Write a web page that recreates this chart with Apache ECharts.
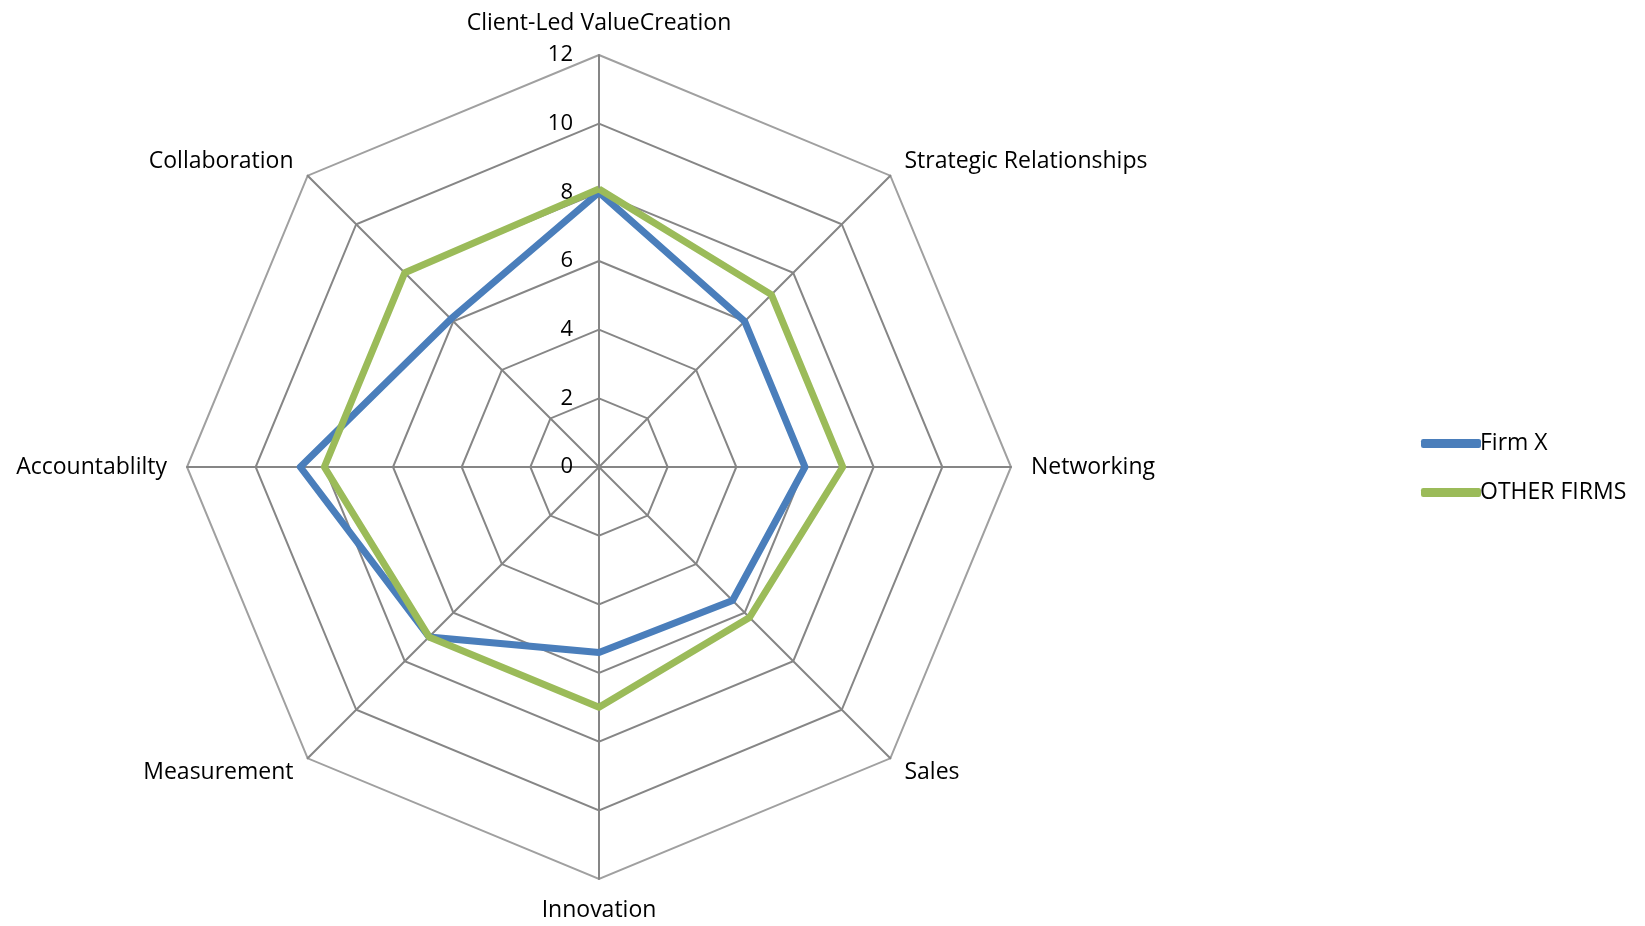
<!DOCTYPE html>
<html>
<head>
<meta charset="utf-8">
<script src="https://cdn.jsdelivr.net/npm/echarts@6/dist/echarts.min.js"></script>
<style>
    html, body { margin: 0; padding: 0; background: #fff; }
    #chart { width: 1645px; height: 926px; }
</style>
</head>
<body>
<div id="chart"></div>
<script>
    // categories in clockwise order, starting at the top
    var categories = ['Client-Led ValueCreation', 'Strategic Relationships', 'Networking', 'Sales',
        'Innovation', 'Measurement', 'Accountablilty', 'Collaboration'];
    var firmX = [8, 6, 6, 5.5, 5.4, 7, 8.7, 6.1];
    var otherFirms = [8.1, 7.1, 7.1, 6.2, 7, 7, 8, 8];
    var tickLabels = ['0', '2', '4', '6', '8', '10', '12'];
    var maxValue = 12;

    // echarts lays indicators out counter-clockwise, so walk the list backwards after the first
    var order = [0];
    for (var i = categories.length - 1; i > 0; i--) order.push(i);
    var reorder = function (arr) { return order.map(function (k) { return arr[k]; }); };

    var font = '"Open Sans", sans-serif';
    var chart = echarts.init(document.getElementById('chart'));
    chart.setOption({
        animation: false,
        color: ['#4A7EBB', '#9BBB59'],
        legend: {
            orient: 'vertical',
            left: 1416,
            top: 427,
            itemWidth: 60,
            itemHeight: 9,
            itemGap: 26,
            icon: 'roundRect',
            textStyle: { fontFamily: font, fontSize: 23, color: '#000', padding: [0, 0, 0, -6] },
            data: ['Firm X', 'OTHER FIRMS']
        },
        radar: {
            center: [599, 467],
            radius: 412,
            startAngle: 90,
            shape: 'polygon',
            min: 0,
            max: maxValue,
            splitNumber: tickLabels.length - 1,
            nameGap: 20,
            axisName: { color: '#000', fontFamily: font, fontSize: 23 },
            axisLine: { lineStyle: { color: '#868686', width: 2 } },
            splitLine: {
                lineStyle: {
                    color: ['#868686', '#868686', '#868686', '#868686', '#868686', '#868686', '#a0a0a0'],
                    width: 2
                }
            },
            splitArea: { show: false },
            indicator: reorder(categories).map(function (c) { return { name: c, min: 0, max: maxValue }; })
        },
        // plain value axis sitting on the top spoke, just for the 0..12 labels
        grid: { left: 599, top: 55, width: 1, height: 412 },
        xAxis: { type: 'value', show: false },
        yAxis: {
            type: 'value',
            min: 0,
            max: maxValue,
            interval: 2,
            axisLine: { show: false },
            axisTick: { show: false },
            splitLine: { show: false },
            axisLabel: {
                margin: 26,
                fontFamily: font,
                fontSize: 22,
                color: '#000',
                formatter: function (v) { return tickLabels[v / 2]; }
            }
        },
        series: [{
            type: 'radar',
            symbol: 'none',
            data: [
                { name: 'Firm X', value: reorder(firmX), lineStyle: { width: 7, color: '#4A7EBB' } },
                { name: 'OTHER FIRMS', value: reorder(otherFirms), lineStyle: { width: 7, color: '#9BBB59' } }
            ]
        }]
    });
</script>
</body>
</html>
